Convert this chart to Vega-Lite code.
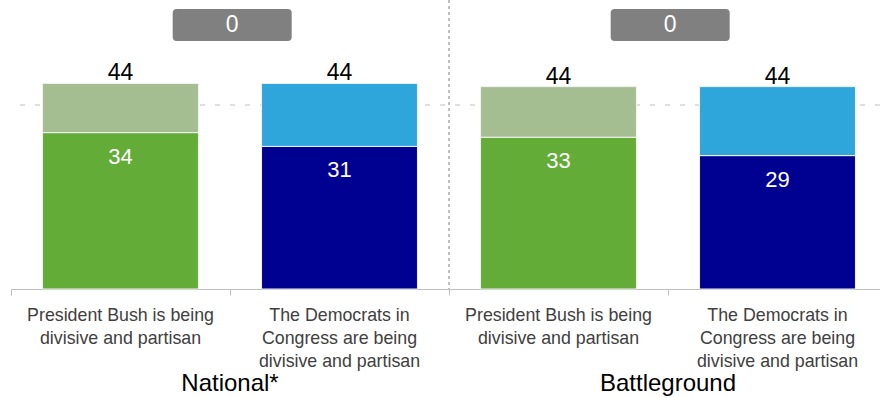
{
  "$schema": "https://vega.github.io/schema/vega-lite/v6.json",
  "width": 869,
  "height": 289,
  "autosize": {"type": "none"},
  "padding": {"left": 11, "top": 0, "right": 0, "bottom": 109},
  "config": {
    "view": {"stroke": null},
    "font": "Liberation Sans",
    "text": {"font": "Liberation Sans"}
  },
  "datasets": {
    "segments": [
      {"slot": "N-Bush", "seg": "Bush base", "lo": 0, "hi": 34},
      {"slot": "N-Bush", "seg": "Bush top", "lo": 34, "hi": 44.7},
      {"slot": "N-Dem", "seg": "Dem base", "lo": 0, "hi": 31},
      {"slot": "N-Dem", "seg": "Dem top", "lo": 31, "hi": 44.7},
      {"slot": "B-Bush", "seg": "Bush base", "lo": 0, "hi": 33},
      {"slot": "B-Bush", "seg": "Bush top", "lo": 33, "hi": 44},
      {"slot": "B-Dem", "seg": "Dem base", "lo": 0, "hi": 29},
      {"slot": "B-Dem", "seg": "Dem top", "lo": 29, "hi": 44}
    ],
    "bars": [
      {"panel": "National*", "slot": "N-Bush", "base": 34, "total": 44.7, "totalLabel": "44", "cat": "President Bush is being|divisive and partisan"},
      {"panel": "National*", "slot": "N-Dem", "base": 31, "total": 44.7, "totalLabel": "44", "cat": "The Democrats in|Congress are being|divisive and partisan"},
      {"panel": "Battleground", "slot": "B-Bush", "base": 33, "total": 44, "totalLabel": "44", "cat": "President Bush is being|divisive and partisan"},
      {"panel": "Battleground", "slot": "B-Dem", "base": 29, "total": 44, "totalLabel": "44", "cat": "The Democrats in|Congress are being|divisive and partisan"}
    ],
    "panels": [
      {"panel": "National*", "slot": "N-Dem", "gap": 0},
      {"panel": "Battleground", "slot": "B-Dem", "gap": 0}
    ]
  },
  "encoding": {
    "x": {"field": "slot", "type": "nominal",
          "scale": {"domain": ["N-Bush", "N-Dem", "B-Bush", "B-Dem"], "range": [0, 876], "paddingInner": 0, "paddingOuter": 0},
          "axis": {"labels": false, "title": null, "domainColor": "#bfbfbf", "tickColor": "#bfbfbf", "tickSize": 6, "tickBand": "extent"}}
  },
  "layer": [
    {
      "data": {"values": [{"ref": 40}]},
      "mark": {"type": "rule", "color": "#bfbfbf", "strokeDash": [5, 10], "strokeWidth": 1},
      "encoding": {
        "x": null,
        "y": {"field": "ref", "type": "quantitative", "scale": {"domain": [0, 62.83], "nice": false}, "axis": null}
      }
    },
    {
      "data": {"name": "segments"},
      "mark": {"type": "bar", "width": {"band": 0.712}, "stroke": "#f2f2f2", "strokeWidth": 1},
      "encoding": {
        "y": {"field": "hi", "type": "quantitative", "scale": {"domain": [0, 62.83], "nice": false}, "axis": null},
        "y2": {"field": "lo"},
        "color": {"field": "seg", "type": "nominal", "scale": {"domain": ["Bush base", "Bush top", "Dem base", "Dem top"], "range": ["#62ac37", "#a4be91", "#000091", "#2ea6dc"]}, "legend": null}
      }
    },
    {
      "data": {"name": "bars"},
      "mark": {"type": "text", "fontSize": 23, "color": "#000000", "baseline": "alphabetic", "dy": -3},
      "encoding": {
        "y": {"field": "total", "type": "quantitative"},
        "text": {"field": "totalLabel", "type": "nominal"}
      }
    },
    {
      "data": {"name": "bars"},
      "mark": {"type": "text", "fontSize": 22, "color": "#ffffff", "baseline": "alphabetic", "dy": 31},
      "encoding": {
        "y": {"field": "base", "type": "quantitative"},
        "text": {"field": "base", "type": "quantitative"}
      }
    },
    {
      "data": {"name": "bars"},
      "mark": {"type": "text", "fontSize": 17.8, "color": "#404040", "baseline": "alphabetic", "dy": 32, "lineBreak": "|", "lineHeight": 23},
      "encoding": {
        "y": {"datum": 0},
        "text": {"field": "cat", "type": "nominal"}
      }
    },
    {
      "data": {"values": [{"slot": "B-Bush"}]},
      "mark": {"type": "rule", "color": "#808080", "strokeDash": [3, 3], "strokeWidth": 1},
      "encoding": {
        "x": {"field": "slot", "type": "nominal", "bandPosition": 0}
      }
    },
    {
      "data": {"name": "panels"},
      "mark": {"type": "point", "filled": true, "color": "#808080", "opacity": 1, "size": 14161,
               "shape": "M -0.933 -0.269 L 0.933 -0.269 Q 1 -0.269 1 -0.202 L 1 0.202 Q 1 0.269 0.933 0.269 L -0.933 0.269 Q -1 0.269 -1 0.202 L -1 -0.202 Q -1 -0.269 -0.933 -0.269 Z"},
      "encoding": {
        "x": {"field": "slot", "type": "nominal", "bandPosition": 0.01},
        "y": {"datum": 57.4}
      }
    },
    {
      "data": {"name": "panels"},
      "mark": {"type": "text", "fontSize": 23, "color": "#ffffff", "baseline": "middle"},
      "encoding": {
        "x": {"field": "slot", "type": "nominal", "bandPosition": 0.01},
        "y": {"datum": 57.4},
        "text": {"field": "gap", "type": "quantitative"}
      }
    },
    {
      "data": {"name": "panels"},
      "mark": {"type": "text", "fontSize": 24, "color": "#000000", "baseline": "alphabetic", "dy": 102},
      "encoding": {
        "x": {"field": "slot", "type": "nominal", "bandPosition": 0},
        "y": {"datum": 0},
        "text": {"field": "panel", "type": "nominal"}
      }
    }
  ]
}
